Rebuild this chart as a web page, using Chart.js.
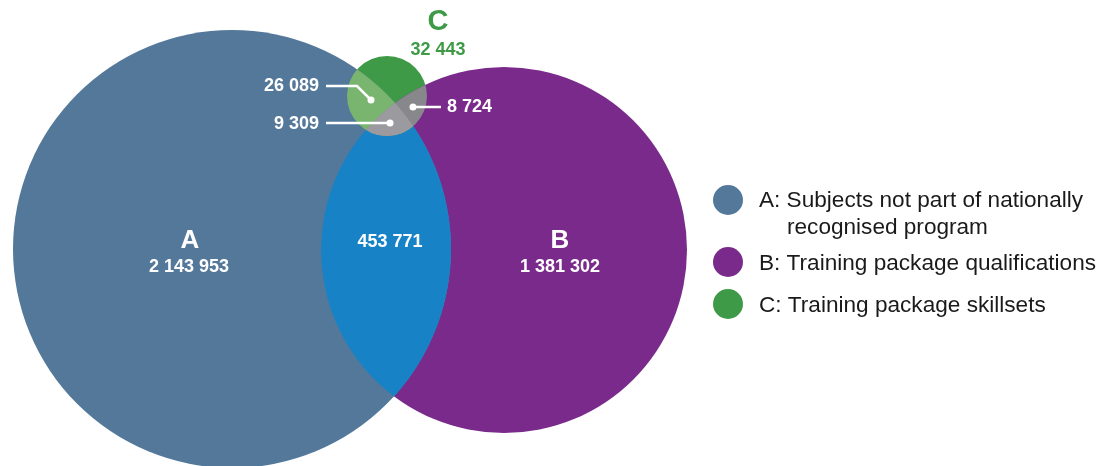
<!DOCTYPE html>
<html>
<head>
<meta charset="utf-8">
<script src="https://cdn.jsdelivr.net/npm/chart.js@4.4.0/dist/chart.umd.min.js"></script>
<style>
    html, body { margin: 0; padding: 0; background: #fff; }
    #wrap { width: 1099px; height: 466px; }
</style>
</head>
<body>
<div id="wrap"><canvas id="chart-venn"></canvas></div>
<script>
// Sets and region counts
const setKeys = ['A', 'B', 'C'];
const setNames = [
    ['Subjects not part of nationally', 'recognised program'],
    ['Training package qualifications'],
    ['Training package skillsets']
];
const regionKeys = ['A', 'B', 'C', 'AB', 'AC', 'BC', 'ABC'];
const regionValues = [2143953, 1381302, 32443, 453771, 26089, 8724, 9309];

// Circle layout in chart units (x 0..1099, y 0..466)
const circleX = [232, 504, 387];
const circleY = [249, 250, 96];
const circleR = [219, 183, 40];

const setColors = ['#54789a', '#7a2a8b', '#3f9a47'];
const overlapColors = { AB: '#1783c6', AC: '#79b56e', BC: '#88878c', ABC: '#9b9a9f' };

const FONT = 'Arial, "Liberation Sans", sans-serif';

function fmt(n) {
    return String(n).replace(/\B(?=(\d{3})+(?!\d))/g, ' ');
}
function val(key) {
    return regionValues[regionKeys.indexOf(key)];
}

const vennPlugin = {
    id: 'venn',
    afterDatasetsDraw: function(chart) {
        const ctx = chart.ctx;
        const xs = chart.scales.x;
        const ys = chart.scales.y;
        const px = v => xs.getPixelForValue(v);
        const py = v => ys.getPixelForValue(v);
        const pr = r => xs.getPixelForValue(r) - xs.getPixelForValue(0);

        const clipTo = (idx) => {
            ctx.beginPath();
            ctx.arc(px(circleX[idx]), py(circleY[idx]), pr(circleR[idx]), 0, Math.PI * 2);
            ctx.clip();
        };
        const fillOverlap = (ids, color) => {
            ctx.save();
            ids.forEach(i => clipTo(i));
            ctx.fillStyle = color;
            ctx.fillRect(0, 0, chart.width, chart.height);
            ctx.restore();
        };

        // overlaps on top of the plain circles
        fillOverlap([0, 1], overlapColors.AB);
        fillOverlap([0, 2], overlapColors.AC);
        fillOverlap([1, 2], overlapColors.BC);
        fillOverlap([0, 1, 2], overlapColors.ABC);

        ctx.save();
        ctx.textBaseline = 'middle';

        const text = (str, x, y, size, color, align, weight) => {
            ctx.font = (weight || 'bold') + ' ' + size + 'px ' + FONT;
            ctx.fillStyle = color;
            ctx.textAlign = align || 'center';
            ctx.fillText(str, px(x), py(y));
        };

        // set names + counts
        text('A', 190, 241, 26, '#fff');
        text(fmt(val('A')), 189, 267, 18, '#fff');
        text('B', 560, 241, 26, '#fff');
        text(fmt(val('B')), 560, 267, 18, '#fff');
        text('C', 438, 22, 29, setColors[2]);
        text(fmt(val('C')), 438, 50, 18, setColors[2]);
        text(fmt(val('AB')), 390, 242, 18, '#fff');

        // leader lines
        ctx.strokeStyle = '#fff';
        ctx.fillStyle = '#fff';
        ctx.lineWidth = 2.5;
        const leader = (pts) => {
            ctx.beginPath();
            pts.forEach((p, i) => i ? ctx.lineTo(px(p[0]), py(p[1])) : ctx.moveTo(px(p[0]), py(p[1])));
            ctx.stroke();
            const end = pts[pts.length - 1];
            ctx.beginPath();
            ctx.arc(px(end[0]), py(end[1]), 3.5, 0, Math.PI * 2);
            ctx.fill();
        };
        leader([[326, 86], [357, 86], [371, 100]]);
        leader([[326, 123], [390, 123]]);
        leader([[441, 107], [413, 107]]);

        text(fmt(val('AC')), 319, 86, 18, '#fff', 'right');
        text(fmt(val('ABC')), 319, 124, 18, '#fff', 'right');
        text(fmt(val('BC')), 447, 107, 18, '#fff', 'left');

        // legend
        const legendY = [[201, 228], [264], [306]];
        const dotY = [200, 262, 304];
        setKeys.forEach((k, i) => {
            ctx.beginPath();
            ctx.arc(px(728), py(dotY[i]), 15, 0, Math.PI * 2);
            ctx.fillStyle = setColors[i];
            ctx.fill();
            setNames[i].forEach((line, j) => {
                const str = j === 0 ? k + ': ' + line : line;
                text(str, j === 0 ? 759 : 787, legendY[i][j], 22.6, '#1a1a1a', 'left', 'normal');
            });
        });

        ctx.restore();
    }
};

const datasets = setKeys.map((k, i) => ({
    label: k,
    data: [{ x: circleX[i], y: circleY[i], r: circleR[i] }],
    backgroundColor: setColors[i],
    borderWidth: 0,
    clip: false,
    radius: (c) => {
        const s = c.chart.scales.x;
        return s.getPixelForValue(circleR[i]) - s.getPixelForValue(0);
    }
}));

new Chart(document.getElementById('chart-venn').getContext('2d'), {
    type: 'bubble',
    data: { datasets: datasets },
    options: {
        responsive: true,
        maintainAspectRatio: false,
        animation: false,
        events: [],
        layout: { padding: 0, autoPadding: false },
        plugins: {
            legend: { display: false },
            tooltip: { enabled: false }
        },
        scales: {
            x: { type: 'linear', min: 0, max: 1099, display: false },
            y: { type: 'linear', min: 0, max: 466, reverse: true, display: false }
        }
    },
    plugins: [vennPlugin]
});
</script>
</body>
</html>
